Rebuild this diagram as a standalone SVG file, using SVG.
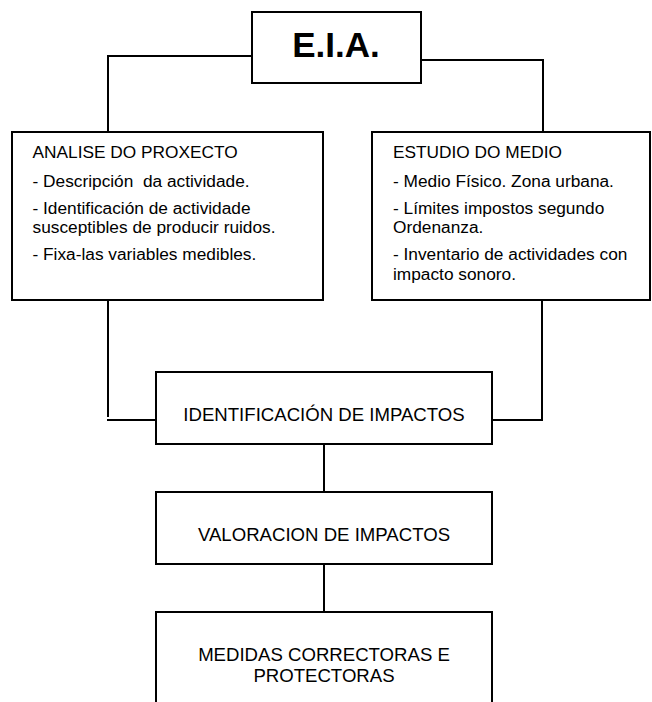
<svg xmlns="http://www.w3.org/2000/svg" width="652" height="702" viewBox="0 0 652 702">
<style>
.box{fill:#fff;stroke:#000;stroke-width:2}
.con{fill:none;stroke:#000;stroke-width:2}
.t{font-family:"Liberation Sans",Arial,sans-serif;fill:#000}
.s{font-size:17.3px}
.m{font-size:18.6px;text-anchor:middle}
.h{font-size:35px;font-weight:bold;text-anchor:middle}
</style>
<rect width="652" height="702" fill="#fff"/>
<g id="connectors">
<polyline class="con" points="252,56 108,56 108,132"/>
<polyline class="con" points="421,60 543,60 543,132"/>
<polyline class="con" points="108,300 108,417"/>
<line class="con" x1="107" y1="420" x2="156" y2="420"/>
<polyline class="con" points="542,300 542,420 492,420"/>
<line class="con" x1="324" y1="444" x2="324" y2="492"/>
<line class="con" x1="324" y1="564" x2="324" y2="612"/>
</g>
<g id="eia">
<rect class="box" x="252" y="12" width="169" height="71"/>
<text class="t h" x="336" y="57">E.I.A.</text>
</g>
<g id="analise">
<rect class="box" x="12" y="132" width="311" height="168"/>
<text class="t s" x="32.5" y="158">ANALISE DO PROXECTO</text>
<text class="t s" x="32.5" y="186.5" xml:space="preserve">- Descripción  da actividade.</text>
<text class="t s" x="32.5" y="214">- Identificación de actividade</text>
<text class="t s" x="32.5" y="233">susceptibles de producir ruidos.</text>
<text class="t s" x="32.5" y="260">- Fixa-las variables medibles.</text>
</g>
<g id="estudio">
<rect class="box" x="372" y="132" width="278" height="168"/>
<text class="t s" x="393" y="158">ESTUDIO DO MEDIO</text>
<text class="t s" x="393" y="186.5">- Medio Físico. Zona urbana.</text>
<text class="t s" x="393" y="214">- Límites impostos segundo</text>
<text class="t s" x="393" y="233">Ordenanza.</text>
<text class="t s" x="393" y="260">- Inventario de actividades con</text>
<text class="t s" x="393" y="280">impacto sonoro.</text>
</g>
<g id="identificacion">
<rect class="box" x="156" y="372" width="336" height="72"/>
<text class="t m" x="324" y="421">IDENTIFICACIÓN DE IMPACTOS</text>
</g>
<g id="valoracion">
<rect class="box" x="156" y="492" width="336" height="72"/>
<text class="t m" x="324" y="541">VALORACION DE IMPACTOS</text>
</g>
<g id="medidas">
<rect class="box" x="156" y="612" width="336" height="110"/>
<text class="t m" x="324" y="661">MEDIDAS CORRECTORAS E</text>
<text class="t m" x="324" y="682">PROTECTORAS</text>
</g>
</svg>
